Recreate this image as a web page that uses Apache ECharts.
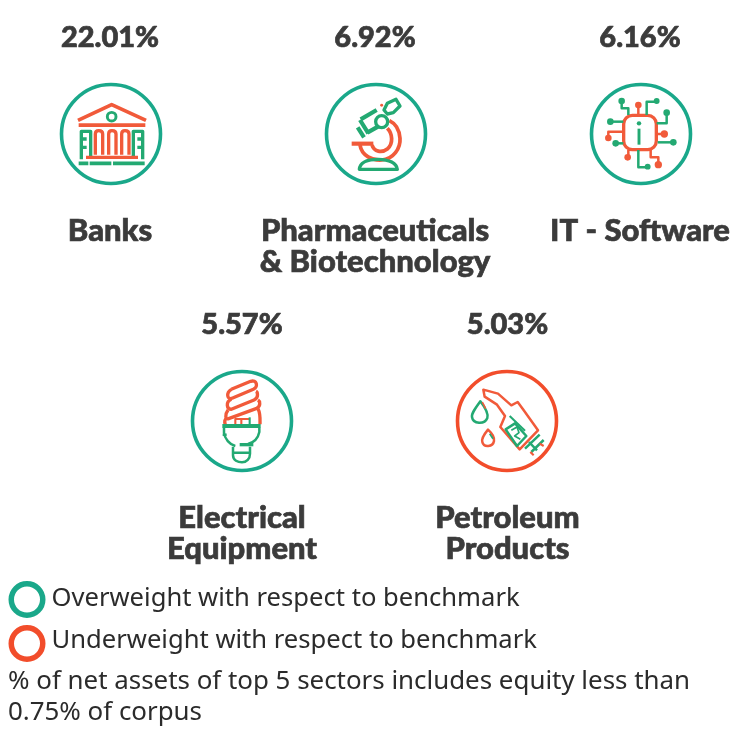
<!DOCTYPE html>
<html><head><meta charset="utf-8">
<style>html,body{margin:0;padding:0;background:#fff}#c{width:742px;height:730px}</style>
<script src="https://cdn.jsdelivr.net/npm/echarts@6/dist/echarts.min.js"></script>
</head><body><div id="c"></div>
<script>
// ---- data ----
const sectors = ['Banks', 'Pharmaceuticals\n& Biotechnology', 'IT - Software', 'Electrical\nEquipment', 'Petroleum\nProducts'];
const weights = [22.01, 6.92, 6.16, 5.57, 5.03];
const stance = ['over', 'over', 'over', 'over', 'under'];
const iconNames = ['bank', 'microscope', 'chip', 'bulb', 'pump'];
const legendLabels = ['Overweight with respect to benchmark', 'Underweight with respect to benchmark'];
const footnote = '% of net assets of top 5 sectors includes equity less than\n0.75% of corpus';

// ---- layout & style ----
const slots = [[111, 134], [376, 134], [641, 134], [242, 421], [507, 421]];
const textShift = [-1, -1, -1, 0, 0.5];
const legendSlots = [[27, 599.5], [27, 643.5]];
const legendTextOffset = [[-2, -1], [-2, -2.5]];
const G = '#23a972', R = '#f15a3a', RING = { over: '#1aa88a', under: '#f24d2b' };
const HEAD = 'Lato', BODY = '"Noto Sans"';
const INK = '#3b3b3b';
const K = 1.25; // icon stroke weight

function p(d, c, w, fill) { return { type: 'path', shape: { pathData: d }, style: { stroke: c, lineWidth: (w || 8) * K, fill: fill || 'none', lineCap: 'butt', lineJoin: 'round' } }; }
function dot(x, y, r, c) { return { type: 'circle', shape: { cx: x, cy: y, r: r * 1.1 }, style: { fill: c } }; }
function ring(x, y, r, c, w) { return { type: 'circle', shape: { cx: x, cy: y, r: r }, style: { fill: 'none', stroke: c, lineWidth: w * K } }; }

// icon shapes live in a 390-unit box (1/3 px) whose origin is `o` from the ring centre
const icons = {
  bank: { o: [211, 192], s: [
    p('M112 151 L213 104 L316 151', R, 9),
    p('M114 165 H314', R, 9),
    ring(213, 140, 13, G, 7),
    p('M122 268 V184 H150 V258 M122 207 H138 M122 232 H138', G, 8),
    p('M306 268 V184 H278 V258 M306 207 H290 M306 232 H290', G, 8),
    p('M164 254 V192 Q164 182 174 182 Q186 182 186 192 V254', R, 8),
    p('M204 254 V192 Q204 182 214 182 Q226 182 226 192 V254', R, 8),
    p('M243 254 V192 Q243 182 253 182 Q265 182 265 192 V254', R, 8),
    p('M136 262 H292', R, 8),
    p('M114 280 H143 M147 280 H212 M217 280 H312', G, 9)
  ] },
  microscope: { o: [198, 192], s: [
    p('M125 221 H190', R, 10),
    p('M150 225 C155 258 188 272 215 270 C250 268 272 235 270 205 C268 178 255 160 238 152', R, 9),
    p('M186 225 C192 245 215 250 233 236 C250 220 248 192 232 175', R, 9),
    p('M148 298 C150 276 170 268 205 268 C238 268 260 280 262 298 Z', G, 8),
    ring(215, 155, 18, G, 8),
    p('M152 148 L200 120 M172 188 L204 170 M143 172 L162 202 M150 150 L175 190', G, 10),
    p('M222 120 L232 100 L258 88 L270 108 L250 128 L232 132 Z', G, 8),
    dot(215, 106, 4, R)
  ] },
  chip: { o: [198, 192], s: [
    { type: 'rect', shape: { x: 146, y: 136, width: 98, height: 103, r: 26 }, style: { fill: 'none', stroke: R, lineWidth: 10 } },
    dot(192, 160, 6, G), p('M192 176 V224', G, 7),
    p('M140 93 V115 H160 V135', G, 6), dot(140, 93, 9, G),
    p('M190 105 V135', R, 6), dot(190, 105, 9, R),
    p('M215 135 V95 H245', G, 6), dot(245, 93, 8, G),
    p('M245 160 H275 V130', G, 6), dot(275, 128, 9, G),
    p('M245 192 H268', R, 6), dot(268, 192, 10, R),
    p('M248 217 H295', G, 6), dot(295, 217, 9, G),
    p('M227 240 V262 H250 V282', R, 6), dot(250, 284, 10, R),
    p('M190 240 V292 H218', G, 6), dot(218, 290, 8, G),
    p('M160 240 V262', R, 6), dot(158, 262, 9, R),
    p('M145 220 H122', G, 6), dot(122, 220, 9, G),
    p('M145 185 H100 V203', R, 6), dot(100, 204, 9, R),
    p('M145 155 H108', G, 6), dot(106, 155, 9, G)
  ] },
  bulb: { o: [192, 187], s: [
    p('M160 92 L218 68 C236 62 242 84 226 92 L164 118 C146 126 144 102 160 92', R, 8),
    p('M160 122 C142 130 146 152 160 152 L228 124 C244 116 238 100 234 98', R, 8),
    p('M150 154 C140 168 142 184 152 180 L234 150 C250 142 246 128 240 124', R, 8),
    p('M146 178 C138 184 140 192 142 197 M240 150 C248 165 246 185 246 197', R, 8),
    p('M172 197 V181 H214 M190 181 V197', R, 5),
    p('M215 176 V197', G, 5),
    p('M133 202 H248', G, 10),
    p('M138 207 V222 C140 240 155 258 172 262 M244 207 V220 C240 240 225 252 210 256 M134 228 H146', G, 6),
    p('M185 258 H226', G, 8),
    p('M165 264 V290 C165 305 180 311 192 311 C206 311 216 300 216 285 V264 M165 282 H216', G, 6)
  ] },
  pump: { o: [192, 187], s: [
    p('M121 93 L165 105 L205 140 L224 130 L240 152 L285 215 L230 272 L172 205 L186 172 L162 138 L125 114 Z', R, 6),
    p('M188 212 L216 194 L250 232 L222 262 Z', G, 6),
    p('M200 172 L246 216', G, 5),
    p('M205 215 L222 205 L228 222 L215 232 L232 242', G, 4),
    p('M246 270 L290 228 M265 280 L302 244 M258 250 L282 275', G, 6),
    p('M290 255 L302 262 M262 280 L272 290', R, 5),
    p('M112 128 C96 150 85 165 87 175 C90 197 125 198 133 178 C137 165 125 145 112 128 Z', G, 6),
    p('M118 130 L128 150', R, 4),
    p('M135 213 C125 225 115 240 118 250 C122 268 150 265 153 247 C155 235 145 222 135 213 Z', R, 6),
    p('M140 225 L150 240', G, 4)
  ] }
};

const chart = echarts.init(document.getElementById('c'), null, { renderer: 'canvas' });
chart.setOption({
  animation: false,
  backgroundColor: '#fff',
  grid: { left: 0, right: 0, top: 0, bottom: 0 },
  xAxis: { type: 'value', min: 0, max: 742, show: false },
  yAxis: { type: 'value', min: 0, max: 730, inverse: true, show: false },
  series: [
    {
      type: 'custom',
      name: 'Top sectors',
      coordinateSystem: 'cartesian2d',
      data: sectors.map((s, i) => [slots[i][0], slots[i][1], weights[i]]),
      renderItem(params, api) {
        const i = params.dataIndex;
        const c = api.coord([api.value(0), api.value(1)]);
        const ic = icons[iconNames[i]];
        return {
          type: 'group',
          children: [
            { type: 'circle', shape: { cx: c[0], cy: c[1], r: 49.5 }, style: { fill: '#fff', stroke: RING[stance[i]], lineWidth: 3.6 } },
            { type: 'group', x: c[0] - ic.o[0] / 3, y: c[1] - ic.o[1] / 3, scaleX: 1 / 3, scaleY: 1 / 3, children: ic.s },
            { type: 'text', x: c[0] + textShift[i], y: c[1] - 96, style: { text: weights[i].toFixed(2) + '%', fill: INK, stroke: INK, lineWidth: 0.7, font: '900 29px ' + HEAD, align: 'center', verticalAlign: 'middle' } },
            { type: 'text', x: c[0] + textShift[i], y: c[1] + 81.5, style: { text: sectors[i], fill: INK, stroke: INK, lineWidth: 0.7, font: '900 31px ' + HEAD, lineHeight: 31, align: 'center', verticalAlign: 'top' } }
          ]
        };
      }
    },
    {
      type: 'scatter',
      name: 'Legend',
      symbol: 'circle',
      symbolSize: 31.5,
      itemStyle: { opacity: 1 },
      data: legendLabels.map((t, i) => ({
        value: legendSlots[i],
        itemStyle: { color: '#fff', opacity: 1, borderColor: i ? RING.under : RING.over, borderWidth: 5.5 },
        label: { show: true, position: 'right', distance: 8, offset: legendTextOffset[i], formatter: t, color: '#2b2b2b', opacity: 1, fontFamily: BODY, fontSize: 25.6 }
      }))
    }
  ],
  graphic: [
    { type: 'text', left: 8, top: 666, style: { text: footnote, fill: '#2b2b2b', font: '25.9px ' + BODY, lineHeight: 31 } }
  ]
});
</script></body></html>
